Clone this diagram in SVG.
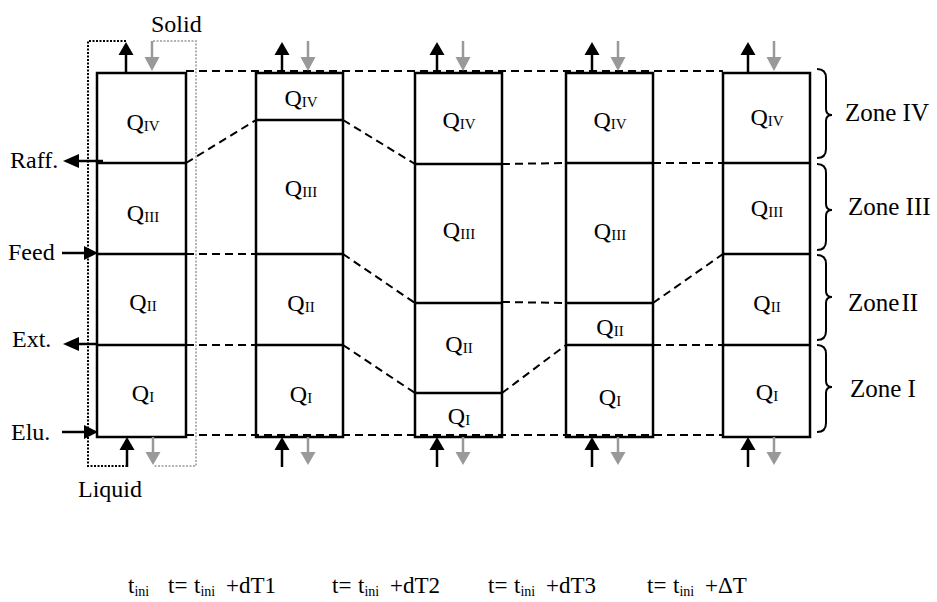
<svg xmlns="http://www.w3.org/2000/svg" width="937" height="602" viewBox="0 0 937 602">
<style>
text{font-family:"Liberation Serif","Times New Roman",serif;fill:#000}
.lbl{font-size:24px}
.zl{font-size:25px}
.q{font-size:24px;text-anchor:middle}
.s{font-size:15px}
.col{fill:none;stroke:#000;stroke-width:2.5}
.div{stroke:#000;stroke-width:2.5}
.dash{fill:none;stroke:#000;stroke-width:2;stroke-dasharray:8,5}
.ln{stroke:#000;stroke-width:2.5}
.gln{stroke:#999;stroke-width:2.5}
.ah{fill:#000}
.gh{fill:#999}
.brace{fill:none;stroke:#000;stroke-width:2}
.t{font-size:23px}
.ts{font-size:14px}
</style>
<defs>
<g id="topArrows">
<line class="ln" x1="0" y1="73" x2="0" y2="54"/>
<polygon class="ah" points="-7.5,55 0,42 7.5,55"/>
<line class="gln" x1="26" y1="41" x2="26" y2="58"/>
<polygon class="gh" points="18.5,57 26,71 33.5,57"/>
</g>
<g id="botArrows">
<line class="ln" x1="0" y1="467" x2="0" y2="449"/>
<polygon class="ah" points="-7.5,450 0,437 7.5,450"/>
<line class="gln" x1="26" y1="437" x2="26" y2="453"/>
<polygon class="gh" points="18.5,452 26,465 33.5,452"/>
</g>
</defs>

<g id="connectors">
<path class="dash" d="M186,71 H723"/>
<path class="dash" d="M186,435 H723"/>
<path class="dash" d="M186,163 L256,120 M343,120 L415,164 M502,164 L566,163 M653,163 L723,163"/>
<path class="dash" d="M186,254 H256 M343,254 L415,303 M502,302 L566,303 M653,303 L723,254"/>
<path class="dash" d="M186,345 H256 M343,345 L415,393 M502,393 L566,345 M653,345 H723"/>
</g>

<g id="frame-col1">
<path d="M126,41 H88 V466 H126" fill="none" stroke="#000" stroke-width="2" stroke-dasharray="2,1.5"/>
<path d="M153,41 H196 V466 H153" fill="none" stroke="#999" stroke-width="1.5" stroke-dasharray="2,1.5"/>
</g>

<g id="col1">
<rect class="col" x="97" y="73" width="89" height="364"/>
<line class="div" x1="97" y1="163" x2="186" y2="163"/>
<line class="div" x1="97" y1="254" x2="186" y2="254"/>
<line class="div" x1="97" y1="345" x2="186" y2="345"/>
<text class="q" x="143" y="130">Q<tspan class="s" dy="1">IV</tspan></text>
<text class="q" x="143" y="221">Q<tspan class="s" dy="1">III</tspan></text>
<text class="q" x="143" y="310">Q<tspan class="s" dy="1">II</tspan></text>
<text class="q" x="143" y="401">Q<tspan class="s" dy="1">I</tspan></text>
<use href="#topArrows" x="126"/>
<use href="#botArrows" x="127"/>
</g>

<g id="col2">
<rect class="col" x="256" y="73" width="87" height="364"/>
<line class="div" x1="256" y1="120" x2="343" y2="120"/>
<line class="div" x1="256" y1="254" x2="343" y2="254"/>
<line class="div" x1="256" y1="345" x2="343" y2="345"/>
<text class="q" x="301" y="106">Q<tspan class="s" dy="1">IV</tspan></text>
<text class="q" x="301" y="196">Q<tspan class="s" dy="1">III</tspan></text>
<text class="q" x="301" y="311">Q<tspan class="s" dy="1">II</tspan></text>
<text class="q" x="301" y="402">Q<tspan class="s" dy="1">I</tspan></text>
<use href="#topArrows" x="282"/>
<use href="#botArrows" x="282"/>
</g>

<g id="col3">
<rect class="col" x="415" y="73" width="87" height="364"/>
<line class="div" x1="415" y1="164" x2="502" y2="164"/>
<line class="div" x1="415" y1="303" x2="502" y2="303"/>
<line class="div" x1="415" y1="393" x2="502" y2="393"/>
<text class="q" x="459" y="128">Q<tspan class="s" dy="1">IV</tspan></text>
<text class="q" x="459" y="238">Q<tspan class="s" dy="1">III</tspan></text>
<text class="q" x="459" y="352">Q<tspan class="s" dy="1">II</tspan></text>
<text class="q" x="459" y="424">Q<tspan class="s" dy="1">I</tspan></text>
<use href="#topArrows" x="437"/>
<use href="#botArrows" x="437"/>
</g>

<g id="col4">
<rect class="col" x="566" y="73" width="87" height="364"/>
<line class="div" x1="566" y1="163" x2="653" y2="163"/>
<line class="div" x1="566" y1="303" x2="653" y2="303"/>
<line class="div" x1="566" y1="345" x2="653" y2="345"/>
<text class="q" x="610" y="128">Q<tspan class="s" dy="1">IV</tspan></text>
<text class="q" x="610" y="239">Q<tspan class="s" dy="1">III</tspan></text>
<text class="q" x="610" y="335">Q<tspan class="s" dy="1">II</tspan></text>
<text class="q" x="610" y="405">Q<tspan class="s" dy="1">I</tspan></text>
<use href="#topArrows" x="592"/>
<use href="#botArrows" x="592"/>
</g>

<g id="col5">
<rect class="col" x="723" y="73" width="87" height="364"/>
<line class="div" x1="723" y1="163" x2="810" y2="163"/>
<line class="div" x1="723" y1="254" x2="810" y2="254"/>
<line class="div" x1="723" y1="345" x2="810" y2="345"/>
<text class="q" x="767" y="125">Q<tspan class="s" dy="1">IV</tspan></text>
<text class="q" x="767" y="216">Q<tspan class="s" dy="1">III</tspan></text>
<text class="q" x="767" y="311">Q<tspan class="s" dy="1">II</tspan></text>
<text class="q" x="767" y="400">Q<tspan class="s" dy="1">I</tspan></text>
<use href="#topArrows" x="748"/>
<use href="#botArrows" x="748"/>
</g>

<g id="ports">
<line class="ln" x1="103" y1="161" x2="78" y2="161"/>
<polygon class="ah" points="79,154 63,161 79,168"/>
<text class="lbl" x="10" y="168">Raff.</text>
<line class="ln" x1="62" y1="253" x2="85" y2="253"/>
<polygon class="ah" points="84,246 98,253 84,260"/>
<text class="lbl" x="8" y="260">Feed</text>
<line class="ln" x1="98" y1="344" x2="78" y2="344"/>
<polygon class="ah" points="79,337 63,344 79,351"/>
<text class="lbl" x="12" y="347">Ext.</text>
<line class="ln" x1="62" y1="432" x2="85" y2="432"/>
<polygon class="ah" points="84,425 98,432 84,439"/>
<text class="lbl" x="11" y="440">Elu.</text>
<text class="lbl" x="151" y="32">Solid</text>
<text class="lbl" x="78" y="497">Liquid</text>
</g>

<g id="zones">
<path class="brace" d="M817,69 Q826,69 826,78 L826,109 Q826,115 832,115 Q826,115 826,121 L826,149 Q826,158 817,158"/>
<text class="zl" x="845" y="121">Zone IV</text>
<path class="brace" d="M817,164 Q826,164 826,173 L826,204 Q826,210 832,210 Q826,210 826,216 L826,241 Q826,250 817,250"/>
<text class="zl" x="848" y="215">Zone III</text>
<path class="brace" d="M817,255 Q826,255 826,264 L826,291 Q826,297 832,297 Q826,297 826,303 L826,331 Q826,340 817,340"/>
<text class="zl" x="848" y="311">Zone<tspan dx="2">II</tspan></text>
<path class="brace" d="M817,345 Q826,345 826,354 L826,381 Q826,387 832,387 Q826,387 826,393 L826,423 Q826,432 817,432"/>
<text class="zl" x="850" y="397">Zone I</text>
</g>

<g id="times">
<text class="t" x="128" y="593">t<tspan class="ts" dy="3">ini</tspan></text>
<text class="t" x="168" y="593">t=<tspan x="194">t</tspan><tspan class="ts" dy="3">ini</tspan><tspan x="226" dy="-3">+dT1</tspan></text>
<text class="t" x="332" y="593">t=<tspan x="358">t</tspan><tspan class="ts" dy="3">ini</tspan><tspan x="390" dy="-3">+dT2</tspan></text>
<text class="t" x="488" y="593">t=<tspan x="514">t</tspan><tspan class="ts" dy="3">ini</tspan><tspan x="546" dy="-3">+dT3</tspan></text>
<text class="t" x="647" y="593">t=<tspan x="673">t</tspan><tspan class="ts" dy="3">ini</tspan><tspan x="705" dy="-3">+ΔT</tspan></text>
</g>
</svg>
